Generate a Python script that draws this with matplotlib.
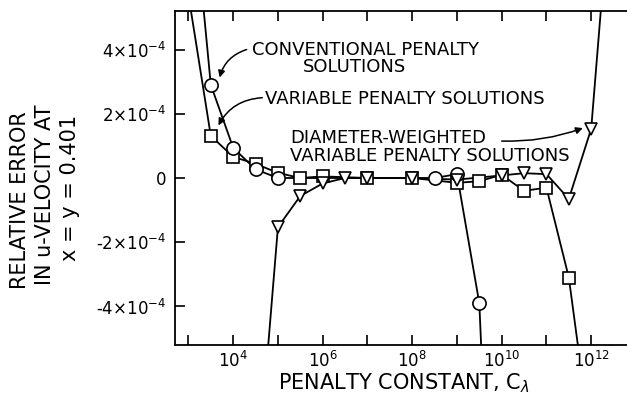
import matplotlib.pyplot as plt
import numpy as np

plt.rcParams['font.family'] = ['DejaVu Sans']
plt.rcParams['mathtext.fontset'] = 'dejavusans'

# log10 of penalty constant and relative error for each series
conv_logc = [3.0, 3.5, 4.0, 4.5, 5.0, 8.5, 9.0, 9.5, 10.0]
conv_err = [10.2e-4, 2.9e-4, 0.94e-4, 0.27e-4, 0.0, 0.0, 0.12e-4, -3.9e-4, -20e-4]

var_logc = [3.0, 3.5, 4.0, 4.5, 5.0, 5.5, 6.0, 7.0, 8.0, 9.0, 9.5, 10.0, 10.5, 11.0, 11.5, 12.0]
var_err = [5.7e-4, 1.31e-4, 0.66e-4, 0.44e-4, 0.16e-4, 0.0, 0.05e-4, 0.0, 0.0,
           -0.15e-4, -0.1e-4, 0.1e-4, -0.4e-4, -0.3e-4, -3.1e-4, -8.3e-4]

dw_logc = [4.5, 5.0, 5.5, 6.0, 6.5, 7.0, 8.0, 9.0, 10.0, 10.5, 11.0, 11.5, 12.0, 12.5]
dw_err = [-10e-4, -1.53e-4, -0.56e-4, -0.17e-4, 0.0, 0.0, 0.0, -0.05e-4, 0.08e-4,
          0.15e-4, 0.12e-4, -0.65e-4, 1.53e-4, 10.1e-4]

ytick_vals = [-4e-4, -2e-4, 0, 2e-4, 4e-4]
ytick_labels = ['-4×10$^{-4}$', '-2×10$^{-4}$', '0', '2×10$^{-4}$', '4×10$^{-4}$']

fig = plt.figure(figsize=(6.27, 3.97), dpi=100)
ax = fig.add_axes([175 / 627, 52 / 397, 452 / 627, 334 / 397])

series = [
    (var_logc, var_err, 's', 8.5, 3),
    (conv_logc, conv_err, 'o', 9.5, 4),
    (dw_logc, dw_err, 'v', 9, 5),
]
for logc, err, mk, ms, z in series:
    c = 10.0 ** np.array(logc)
    ax.plot(c, err, color='black', lw=1.3, zorder=2)
    ax.plot(c, err, ls='none', marker=mk, ms=ms, mfc='white', mec='black',
            mew=1.2, zorder=z)

ax.set_xscale('log')
ax.set_xlim(10 ** 2.7, 10 ** 12.8)
ax.set_ylim(-5.2e-4, 5.2e-4)

ax.set_xticks([10.0 ** k for k in range(3, 13)])
ax.set_xticklabels(['$10^{%d}$' % k if k % 2 == 0 else '' for k in range(3, 13)])
ax.xaxis.set_minor_locator(plt.NullLocator())
ax.set_yticks(ytick_vals)
ax.set_yticklabels(ytick_labels)
ax.tick_params(axis='both', direction='in', length=7, width=1.2, labelsize=12,
               top=True, right=False, pad=6)
ax.tick_params(axis='x', pad=4)
for s in ['left', 'top', 'bottom']:
    ax.spines[s].set_linewidth(1.3)
ax.spines['right'].set_visible(False)

fs = 13
# annotations
ax.annotate('', xy=(10 ** 3.68, 3.0e-4), xytext=(10 ** 4.3, 4.0e-4),
            arrowprops=dict(arrowstyle='-|>', color='black', lw=1.1,
                            connectionstyle='arc3,rad=0.3', shrinkA=0, shrinkB=3))
ax.text(10 ** 4.42, 4.0e-4, 'CONVENTIONAL PENALTY', fontsize=fs, va='center')
ax.text(10 ** 5.55, 3.45e-4, 'SOLUTIONS', fontsize=fs, va='center')

ax.annotate('', xy=(10 ** 3.63, 1.52e-4), xytext=(10 ** 4.65, 2.5e-4),
            arrowprops=dict(arrowstyle='-|>', color='black', lw=1.1,
                            connectionstyle='arc3,rad=0.3', shrinkA=0, shrinkB=3))
ax.text(10 ** 4.72, 2.47e-4, 'VARIABLE PENALTY SOLUTIONS', fontsize=fs, va='center')

ax.text(10 ** 5.28, 1.25e-4, 'DIAMETER-WEIGHTED', fontsize=fs, va='center')
ax.text(10 ** 5.28, 0.69e-4, 'VARIABLE PENALTY SOLUTIONS', fontsize=fs, va='center')
ax.annotate('', xy=(10 ** 11.9, 1.6e-4), xytext=(10 ** 10.0, 1.15e-4),
            arrowprops=dict(arrowstyle='-|>', color='black', lw=1.1,
                            connectionstyle='arc3,rad=0.1', shrinkA=0, shrinkB=3))

# axis labels
lfs = 15
fig.text(20 / 627, 1 - 200 / 397, 'RELATIVE ERROR', rotation=90, fontsize=lfs,
         ha='center', va='center')
fig.text(45 / 627, 1 - 195 / 397, 'IN u-VELOCITY AT', rotation=90, fontsize=lfs,
         ha='center', va='center')
fig.text(70 / 627, 1 - 188 / 397, 'x = y = 0.401', rotation=90, fontsize=lfs,
         ha='center', va='center')
fig.text(404 / 627, 1 - 383 / 397, 'PENALTY CONSTANT, C$_\\lambda$', fontsize=lfs,
         ha='center', va='center')

fig.savefig('out.png', dpi=100)
